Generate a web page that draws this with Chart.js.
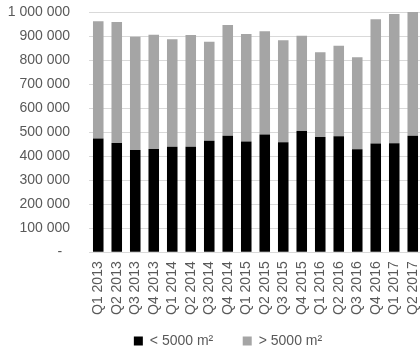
<!DOCTYPE html>
<html>
<head>
<meta charset="utf-8">
<script src="https://cdn.jsdelivr.net/npm/chart.js@4"></script>
<style>
  html, body { margin: 0; padding: 0; background: #fff; overflow: hidden; }
  #wrap { width: 422px; height: 354px; }
</style>
</head>
<body>
<div id="wrap"><canvas id="chart" width="422" height="354"></canvas></div>
<script>
// Quarterly take-up, split by unit size
const quarters = ['Q1 2013','Q2 2013','Q3 2013','Q4 2013','Q1 2014','Q2 2014','Q3 2014','Q4 2014',
                  'Q1 2015','Q2 2015','Q3 2015','Q4 2015','Q1 2016','Q2 2016','Q3 2016','Q4 2016',
                  'Q1 2017','Q2 2017'];
const smallUnits = [474000, 455000, 426000, 430000, 439000, 439000, 464000, 485000, 461000,
                    490000, 458000, 505000, 480000, 483000, 429000, 453000, 454000, 485000];
const largeUnits = [488000, 503000, 471000, 475000, 448000, 465000, 412000, 461000, 447000,
                    430000, 424000, 396000, 353000, 377000, 383000, 517000, 538000, 515000];
const seriesNames = ['< 5000 m²', '> 5000 m²'];
const yMax = 1000000;
const yStep = 100000;

const fontFamily = '"Liberation Sans", Arial, sans-serif';
const textColor = '#595959';

// "1 000 000" style thousands, dash for zero
function formatTick(v) {
  if (v === 0) return '-  ';
  return String(v).replace(/\B(?=(\d{3})+(?!\d))/g, ' ');
}

// move the legend a little to the right of the canvas centre
const legendShift = {
  id: 'legendShift',
  afterLayout(chart) {
    if (chart.legend) {
      chart.legend.left += 17;
      chart.legend.right += 17;
    }
  }
};

// default legend items, with extra room after the first entry
function legendItems(chart) {
  const items = Chart.defaults.plugins.legend.labels.generateLabels(chart);
  if (items.length) items[0].text += '     ';
  return items;
}

new Chart(document.getElementById('chart'), {
  type: 'bar',
  data: {
    labels: quarters,
    datasets: [
      { label: seriesNames[0], data: smallUnits, backgroundColor: '#000000', borderWidth: 0 },
      { label: seriesNames[1], data: largeUnits, backgroundColor: '#a5a5a5', borderWidth: 0 }
    ]
  },
  options: {
    responsive: false,
    animation: false,
    devicePixelRatio: 1,
    layout: { padding: { top: 12, right: 0, bottom: -4, left: 0 } },
    datasets: { bar: { barPercentage: 0.57, categoryPercentage: 1.0 } },
    plugins: {
      legend: {
        position: 'bottom',
        labels: {
          boxWidth: 9,
          boxHeight: 9,
          padding: 10,
          color: textColor,
          font: { family: fontFamily, size: 14 },
          generateLabels: legendItems
        }
      },
      tooltip: { enabled: false }
    },
    scales: {
      x: {
        stacked: true,
        grid: { display: false, drawTicks: false },
        border: { color: '#d9d9d9', width: 1 },
        afterFit(s) { s.paddingLeft = 0; s.paddingRight = 0; },
        ticks: {
          minRotation: 90,
          maxRotation: 90,
          autoSkip: false,
          padding: 9,
          color: textColor,
          font: { family: fontFamily, size: 14 }
        }
      },
      y: {
        stacked: true,
        min: 0,
        max: yMax,
        grid: { color: '#d9d9d9', drawTicks: false },
        border: { display: false },
        afterFit(s) { s.width = 89; s.paddingTop = 0; s.paddingBottom = 0; },
        ticks: {
          stepSize: yStep,
          padding: 19,
          color: textColor,
          font: { family: fontFamily, size: 14 },
          callback: formatTick
        }
      }
    }
  },
  plugins: [legendShift]
});
</script>
</body>
</html>
